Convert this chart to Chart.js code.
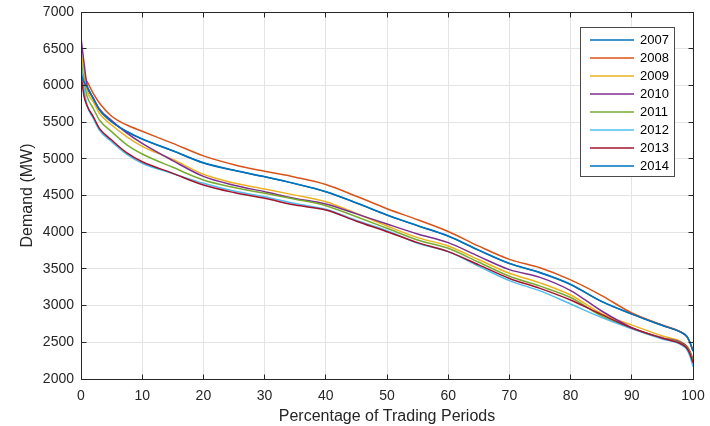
<!DOCTYPE html>
<html>
<head>
<meta charset="utf-8">
<script src="https://cdn.jsdelivr.net/npm/chart.js@4.4.1/dist/chart.umd.min.js"></script>
<style>
html,body{margin:0;padding:0;background:#ffffff;}
#wrap{width:710px;height:426px;position:relative;}
</style>
</head>
<body>
<div id="wrap"><canvas id="c" width="710" height="426"></canvas></div>
<script>
// ---- data ----
const pct = [0, 0.5, 1, 2, 3, 5, 7.5, 10, 15, 20, 25, 30, 35, 40, 45, 50, 55, 60, 65, 70, 75, 80, 85, 90, 95, 98, 99, 99.5, 100];

const y2007 = [6150, 6050, 5980, 5820, 5670, 5505, 5370, 5270, 5110, 4945, 4845, 4757, 4662, 4552, 4400, 4234, 4090, 3948, 3755, 3575, 3450, 3290, 3060, 2886, 2730, 2640, 2580, 2500, 2380];
const y2008 = [6200, 6110, 6050, 5890, 5760, 5580, 5460, 5375, 5210, 5040, 4920, 4830, 4750, 4650, 4490, 4320, 4170, 4010, 3810, 3630, 3515, 3350, 3140, 2900, 2735, 2640, 2580, 2500, 2390];
const y2009 = [6450, 6200, 5930, 5778, 5620, 5460, 5300, 5170, 4990, 4790, 4670, 4589, 4505, 4416, 4255, 4084, 3926, 3812, 3625, 3440, 3310, 3145, 2895, 2735, 2586, 2510, 2450, 2380, 2270];
const y2010 = [6650, 6300, 6000, 5830, 5680, 5520, 5350, 5210, 4975, 4760, 4640, 4552, 4460, 4384, 4250, 4111, 3976, 3858, 3670, 3490, 3385, 3205, 2930, 2700, 2560, 2500, 2440, 2370, 2260];
const y2011 = [6350, 6050, 5850, 5688, 5529, 5370, 5190, 5065, 4884, 4711, 4610, 4530, 4450, 4361, 4210, 4053, 3894, 3781, 3590, 3400, 3265, 3110, 2860, 2690, 2555, 2490, 2430, 2360, 2250];
const y2012 = [6250, 5950, 5730, 5552, 5393, 5233, 5060, 4939, 4800, 4666, 4560, 4484, 4390, 4312, 4160, 4020, 3850, 3735, 3535, 3340, 3200, 3022, 2840, 2685, 2545, 2470, 2400, 2310, 2170];
const y2013 = [6150, 5850, 5720, 5574, 5415, 5256, 5080, 4960, 4802, 4643, 4540, 4462, 4370, 4302, 4150, 4007, 3858, 3735, 3555, 3370, 3235, 3076, 2880, 2695, 2555, 2480, 2420, 2340, 2220];
const y2014 = [6150, 6045, 5975, 5820, 5668, 5505, 5372, 5268, 5108, 4944, 4843, 4755, 4660, 4550, 4398, 4232, 4088, 3946, 3753, 3573, 3448, 3288, 3058, 2884, 2728, 2638, 2578, 2498, 2378];

const years = ['2007', '2008', '2009', '2010', '2011', '2012', '2013', '2014'];
const seriesValues = [y2007, y2008, y2009, y2010, y2011, y2012, y2013, y2014];
const colors = ['#0072BD', '#D95319', '#EDB120', '#7E2F8E', '#77AC30', '#4DBEEE', '#A2142F', '#0072BD'];

const xTicks = [0, 10, 20, 30, 40, 50, 60, 70, 80, 90, 100];
const yTicks = [2000, 2500, 3000, 3500, 4000, 4500, 5000, 5500, 6000, 6500, 7000];

const xTitle = 'Percentage of Trading Periods';
const yTitle = 'Demand (MW)';

// ---- chart ----
const FONT = '"Liberation Sans", Arial, Helvetica, sans-serif';
const AX = '#262626';

const datasets = years.map((yr, i) => ({
  label: yr,
  data: pct.map((p, k) => ({x: p, y: seriesValues[i][k]})),
  borderColor: colors[i],
  backgroundColor: colors[i],
  borderWidth: 1.5,
  pointRadius: 0,
  fill: false,
  cubicInterpolationMode: 'monotone',
  order: years.length - i
}));

function align(px){ return Math.round(px - 0.5) + 0.5; }

const framePlugin = {
  id: 'frame',
  afterDraw(chart){
    const {ctx, chartArea, scales} = chart;
    const L = align(chartArea.left), R = align(chartArea.right);
    const T = align(chartArea.top), B = align(chartArea.bottom);
    ctx.save();
    ctx.strokeStyle = AX;
    ctx.lineWidth = 1;
    ctx.beginPath();
    const tl = 5;
    xTicks.forEach(v => {
      const px = align(scales.x.getPixelForValue(v));
      ctx.moveTo(px, B); ctx.lineTo(px, B - tl);
      ctx.moveTo(px, T); ctx.lineTo(px, T + tl);
    });
    yTicks.forEach(v => {
      const py = align(scales.y.getPixelForValue(v));
      ctx.moveTo(L, py); ctx.lineTo(L + tl, py);
      ctx.moveTo(R, py); ctx.lineTo(R - tl, py);
    });
    ctx.stroke();
    ctx.strokeRect(L, T, R - L, B - T);

    // legend box (inside plot, top-right)
    const bx = 580.5, by = 27.5, bw = 94, bh = 149;
    ctx.fillStyle = '#ffffff';
    ctx.fillRect(bx, by, bw, bh);
    ctx.strokeStyle = '#4a4a4a';
    ctx.strokeRect(bx, by, bw, bh);
    ctx.font = '13px ' + FONT;
    ctx.textBaseline = 'middle';
    ctx.textAlign = 'left';
    chart.data.datasets.forEach((ds, i) => {
      const cy = 40 + i * 18;
      ctx.strokeStyle = ds.borderColor;
      ctx.lineWidth = 1.5;
      ctx.beginPath();
      ctx.moveTo(590, cy); ctx.lineTo(634, cy);
      ctx.stroke();
      ctx.fillStyle = '#000000';
      ctx.fillText(ds.label, 640, cy + 0.5);
    });
    ctx.restore();
  }
};

new Chart(document.getElementById('c'), {
  type: 'line',
  data: { datasets },
  options: {
    responsive: false,
    animation: false,
    devicePixelRatio: 1,
    layout: { padding: { left: 0, right: 17, top: 12, bottom: 0 } },
    plugins: { legend: { display: false }, tooltip: { enabled: false }, title: { display: false } },
    scales: {
      x: {
        type: 'linear', min: 0, max: 100,
        afterBuildTicks: s => { s.ticks = xTicks.map(v => ({value: v})); },
        afterFit: s => { s.height = 47; s.paddingLeft = 0; s.paddingRight = 0; },
        grid: { color: '#e4e4e4', lineWidth: 1, drawTicks: false },
        border: { display: false },
        ticks: { color: AX, font: { family: FONT, size: 14 }, padding: 9, maxRotation: 0, autoSkip: false,
                 callback: v => String(v) },
        title: { display: true, text: xTitle, color: AX, font: { family: FONT, size: 16 }, padding: { top: 0, bottom: 0 } }
      },
      y: {
        type: 'linear', min: 2000, max: 7000,
        afterBuildTicks: s => { s.ticks = yTicks.map(v => ({value: v})); },
        afterFit: s => { s.width = 81; s.paddingTop = 0; s.paddingBottom = 0; },
        grid: { color: '#e4e4e4', lineWidth: 1, drawTicks: false },
        border: { display: false },
        ticks: { color: AX, font: { family: FONT, size: 14 }, padding: 7, autoSkip: false,
                 callback: v => String(v) },
        title: { display: true, text: yTitle, color: AX, font: { family: FONT, size: 16 }, padding: { top: 18, bottom: 0 } }
      }
    }
  },
  plugins: [framePlugin]
});
</script>
</body>
</html>
